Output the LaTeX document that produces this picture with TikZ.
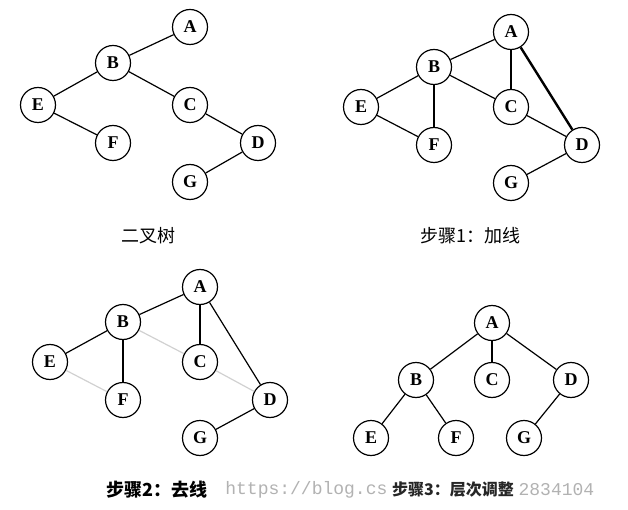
\documentclass[tikz,border=0pt]{standalone}
\usepackage{fontspec}
\setmainfont{Liberation Serif}
\newfontfamily\cjk{Noto Sans CJK SC}
\newfontfamily\wmfont{Liberation Mono}
\tikzstyle{vertex} = [circle, draw, line width=1.2pt, minimum size=35pt, inner sep=0pt, font=\fontsize{18}{18}\selectfont\bfseries]
\tikzstyle{edge} = [line width=1.2pt]
\tikzstyle{added} = [line width=2.4pt]
\tikzstyle{removed} = [line width=1.2pt, black!18]
\tikzstyle{caption} = [font=\fontsize{18}{18}\selectfont\cjk]
\tikzstyle{watermark} = [font=\fontsize{18}{18}\selectfont\wmfont, text=black!30, inner sep=0pt]

\begin{document}
\begin{tikzpicture}[x=1pt, y=-1pt]
        \useasboundingbox[fill=white] (0,0) rectangle (628,510);

        % binary tree
        \node[vertex] (A1) at (190,27) {A};
        \node[vertex] (B1) at (113,63) {B};
        \node[vertex] (E1) at (38,105) {E};
        \node[vertex] (C1) at (190,105) {C};
        \node[vertex] (F1) at (113,143) {F};
        \node[vertex] (D1) at (258,143) {D};
        \node[vertex] (G1) at (190,182) {G};
        \draw[edge] (A1) -- (B1);
        \draw[edge] (B1) -- (E1);
        \draw[edge] (B1) -- (C1);
        \draw[edge] (E1) -- (F1);
        \draw[edge] (C1) -- (D1);
        \draw[edge] (D1) -- (G1);
        \node[caption] (cap1) at (148,236) {二叉树};

        % step 1: add lines
        \node[vertex] (A2) at (511,32) {A};
        \node[vertex] (B2) at (434,67) {B};
        \node[vertex] (E2) at (361,107) {E};
        \node[vertex] (C2) at (511,107) {C};
        \node[vertex] (F2) at (434,145) {F};
        \node[vertex] (D2) at (582,145) {D};
        \node[vertex] (G2) at (511,183) {G};
        \draw[edge] (A2) -- (B2);
        \draw[edge] (B2) -- (E2);
        \draw[edge] (B2) -- (C2);
        \draw[edge] (E2) -- (F2);
        \draw[edge] (C2) -- (D2);
        \draw[edge] (D2) -- (G2);
        \draw[added] (A2) -- (C2);
        \draw[added] (A2) -- (D2);
        \draw[added] (B2) -- (F2);
        \node[caption] (cap2) at (470,236) {步骤1：加线};

        % step 2: remove lines
        \node[vertex] (A3) at (200,287) {A};
        \node[vertex] (B3) at (123,322) {B};
        \node[vertex] (E3) at (50,362) {E};
        \node[vertex] (C3) at (200,362) {C};
        \node[vertex] (F3) at (123,400) {F};
        \node[vertex] (D3) at (270,400) {D};
        \node[vertex] (G3) at (200,438) {G};
        \draw[removed] (B3) -- (C3);
        \draw[removed] (E3) -- (F3);
        \draw[removed] (C3) -- (D3);
        \draw[edge] (A3) -- (B3);
        \draw[edge] (A3) -- (C3);
        \draw[edge] (A3) -- (D3);
        \draw[edge] (B3) -- (E3);
        \draw[edge] (B3) -- (F3);
        \draw[edge] (D3) -- (G3);
        \node[caption, font=\fontsize{18}{18}\selectfont\cjk\bfseries] (cap3) at (157,490) {步骤2：去线};

        % step 3: level adjustment
        \node[vertex] (A4) at (492,323) {A};
        \node[vertex] (B4) at (416,380) {B};
        \node[vertex] (C4) at (492,380) {C};
        \node[vertex] (D4) at (571,380) {D};
        \node[vertex] (E4) at (371,438) {E};
        \node[vertex] (F4) at (456,438) {F};
        \node[vertex] (G4) at (524,438) {G};
        \draw[edge] (A4) -- (B4);
        \draw[edge] (A4) -- (C4);
        \draw[edge] (A4) -- (D4);
        \draw[edge] (B4) -- (E4);
        \draw[edge] (B4) -- (F4);
        \draw[edge] (D4) -- (G4);
        \node[caption, font=\fontsize{16}{16}\selectfont\cjk\bfseries, text=black!85] (cap4) at (453,490) {步骤3：层次调整};

        % watermark, partly hidden by the caption
        \node[watermark, anchor=east] (wm1) at ([xshift=-1pt]cap4.west) {https://blog.cs};
        \node[watermark, anchor=west] (wm2) at ([xshift=1pt]cap4.east) {2834104};
    \end{tikzpicture}
\end{document}
